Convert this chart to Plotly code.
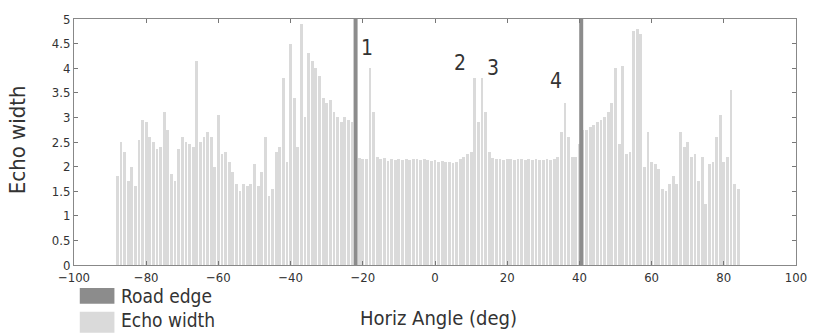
import plotly.graph_objects as go

# ---- data ----
angles = list(range(-88, 85))
echo_width = [
    1.8, 2.5, 2.3, 1.7, 2.0, 1.6, 2.55, 2.95, 2.9, 2.6,          # -88..-79
    2.5, 2.35, 2.4, 3.1, 2.75, 1.85, 1.7, 2.35, 2.6, 2.5,        # -78..-69
    2.45, 2.4, 4.15, 2.5, 2.6, 2.7, 2.6, 2.0, 3.05, 2.25,        # -68..-59
    2.3, 2.1, 1.9, 1.65, 1.5, 1.65, 1.6, 1.65, 2.05, 1.6,        # -58..-49
    1.9, 2.6, 1.4, 1.55, 2.3, 2.4, 3.8, 2.1, 4.5, 3.4,           # -48..-39
    2.4, 4.9, 3.0, 4.3, 4.15, 4.0, 3.85, 3.4, 3.3, 3.35,         # -38..-29
    3.1, 3.0, 2.9, 3.0, 2.95, 2.9, 2.15, 2.18, 2.15, 2.15,       # -28..-19
    4.0, 3.1, 2.2, 2.15, 2.17, 2.12, 2.15, 2.14, 2.16, 2.13,     # -18..-9
    2.15, 2.14, 2.16, 2.15, 2.13, 2.15, 2.14, 2.12, 2.13, 2.1,   # -8..1
    2.12, 2.1, 2.1, 2.08, 2.1, 2.15, 2.2, 2.25, 2.3, 3.8,        # 2..11
    2.9, 3.8, 3.1, 2.3, 2.18, 2.16, 2.15, 2.14, 2.15, 2.16,      # 12..21
    2.14, 2.15, 2.15, 2.13, 2.15, 2.14, 2.15, 2.13, 2.14, 2.15,  # 22..31
    2.14, 2.15, 2.2, 2.7, 3.3, 2.6, 2.2, 2.2, 2.45, 2.75,        # 32..41
    2.75, 2.8, 2.85, 2.9, 2.95, 3.0, 3.1, 3.3, 4.0, 2.45,        # 42..51
    4.05, 2.25, 2.3, 4.75, 4.8, 4.7, 2.0, 2.7, 2.1, 2.05,        # 52..61
    1.95, 1.55, 1.5, 1.65, 1.8, 1.65, 2.7, 2.4, 2.5, 2.2,        # 62..71
    2.25, 1.7, 2.2, 1.25, 2.05, 2.1, 2.6, 3.05, 2.1, 2.2,        # 72..81
    3.55, 1.65, 1.55,                                            # 82..84
]
road_edges = [-22, 40.5]
peak_labels = ["1", "2", "3", "4"]
peak_x = [-18.7, 6.9, 16.2, 33.5]
peak_y = [4.42, 4.1, 4.0, 3.73]
x_ticks = list(range(-100, 101, 20))
y_ticks = [i * 0.5 for i in range(11)]
y_tick_text = ["0", "0.5", "1", "1.5", "2", "2.5", "3", "3.5", "4", "4.5", "5"]

FONT = "Liberation Sans Narrow, DejaVu Sans Condensed, Liberation Sans, Arial, sans-serif"
BAR_C = "#dadada"
EDGE_C = "#8c8c8c"
TXT = "#333333"

fig = go.Figure()
fig.add_trace(go.Bar(x=angles, y=echo_width, width=0.78, marker=dict(color=BAR_C, line=dict(width=0)),
                     name="Echo width", showlegend=False))
for e in road_edges:
    fig.add_trace(go.Scatter(x=[e, e], y=[0, 5], mode="lines", line=dict(color=EDGE_C, width=4),
                             name="Road edge", showlegend=False))

for t, xx, yy in zip(peak_labels, peak_x, peak_y):
    fig.add_annotation(x=xx, y=yy, text=t, showarrow=False, font=dict(family=FONT, size=21, color=TXT))

# legend (custom large swatches)
fig.add_shape(type="rect", xref="paper", yref="paper", x0=0.008, x1=0.056, y0=-0.093, y1=-0.158,
              fillcolor=EDGE_C, line=dict(width=0))
fig.add_shape(type="rect", xref="paper", yref="paper", x0=0.008, x1=0.056, y0=-0.190, y1=-0.275,
              fillcolor=BAR_C, line=dict(width=0))
fig.add_annotation(xref="paper", yref="paper", x=0.062, y=-0.126, text="Road edge", showarrow=False,
                   xanchor="left", yanchor="middle", font=dict(family=FONT, size=19, color=TXT))
fig.add_annotation(xref="paper", yref="paper", x=0.062, y=-0.225, text="Echo width", showarrow=False,
                   xanchor="left", yanchor="middle", font=dict(family=FONT, size=19, color=TXT))
# axis titles
fig.add_annotation(xref="paper", yref="paper", x=0.505, y=-0.214, text="Horiz Angle (deg)", showarrow=False,
                   xanchor="center", yanchor="middle", font=dict(family=FONT, size=20, color=TXT))
fig.add_annotation(xref="paper", yref="paper", x=-0.078, y=0.51, text="Echo width", showarrow=False,
                   textangle=-90, xanchor="center", yanchor="middle", font=dict(family=FONT, size=22, color=TXT))

fig.update_layout(
    width=819, height=334,
    margin=dict(l=74, r=17, t=17, b=69),
    plot_bgcolor="white", paper_bgcolor="white",
    bargap=0, showlegend=False,
    font=dict(family=FONT, size=12, color=TXT),
)
fig.update_xaxes(range=[-100, 100], tickvals=x_ticks, ticks="inside", ticklen=4, tickcolor="#777",
                 showline=True, linecolor="#888", linewidth=1, mirror="ticks", showgrid=False,
                 zeroline=False, tickfont=dict(family=FONT, size=13, color=TXT))
fig.update_yaxes(range=[0, 5], tickvals=y_ticks, ticktext=y_tick_text, ticks="inside", ticklen=4,
                 tickcolor="#777", showline=True, linecolor="#888", linewidth=1, mirror="ticks",
                 showgrid=False, zeroline=False, tickfont=dict(family=FONT, size=13, color=TXT))

# remove the default page margin so the figure sits at the window's top-left corner
fig.write_html("out.html", config={"displayModeBar": False},
               post_script="document.body.style.margin='0';document.body.style.overflow='hidden';")
